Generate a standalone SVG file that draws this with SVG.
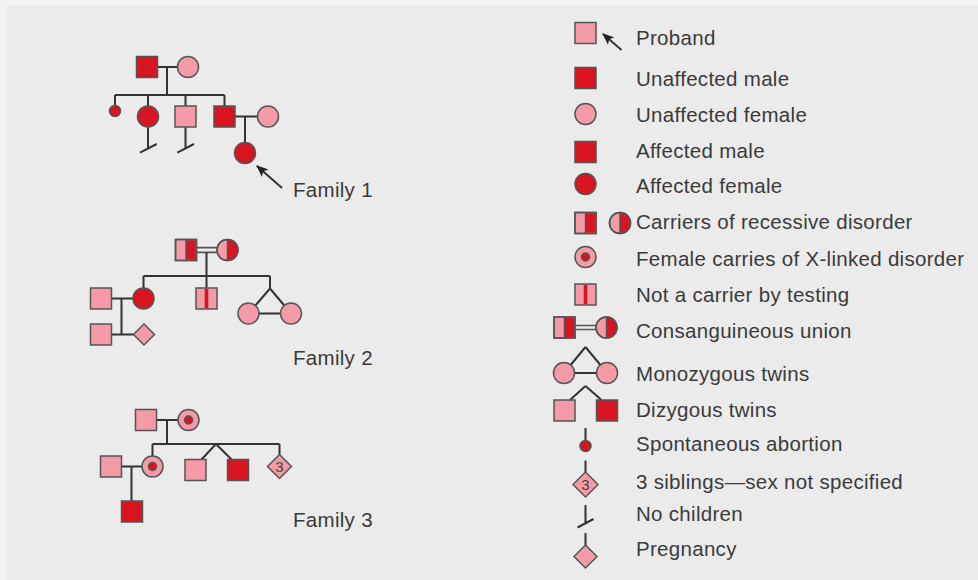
<svg xmlns="http://www.w3.org/2000/svg" width="978" height="580" viewBox="0 0 978 580">
<defs>
<style>
.pk{fill:#f49ba7;stroke:#555;stroke-width:1.5}
.rd{fill:#d7141f;stroke:#555;stroke-width:1.5}
.rdf{fill:#d7141f;stroke:none}
.ol{fill:none;stroke:#555;stroke-width:1.5}
.ln{fill:none;stroke:#333;stroke-width:2}
.dbl{fill:none;stroke:#555;stroke-width:1.6}
.tx{font-family:"Liberation Sans",Arial,Helvetica,sans-serif;font-size:20.5px;fill:#3a3a3a;letter-spacing:0.3px}
.num{font-family:"Liberation Sans",Arial,Helvetica,sans-serif;font-size:15px;fill:#444;text-anchor:middle}
</style>
<marker id="arr" viewBox="0 0 12 10" refX="11" refY="5" markerWidth="12" markerHeight="10" markerUnits="userSpaceOnUse" orient="auto">
<path d="M0,0 L12,5 L0,10 L3,5 z" fill="#222"/>
</marker>
</defs>
<rect x="0" y="0" width="978" height="580" fill="#f3f3f3"/>
<rect x="7" y="5" width="971" height="575" fill="#ebebeb"/>

<g id="connectors">
<!-- Family 1 -->
<path class="ln" d="M157.5,67 H177.5 M167,67 V95 M115,95 H224.5 M115,95 V106 M148,95 V106 M185.5,95 V106 M224.5,95 V106"/>
<path class="ln" d="M235,116.5 H257.5 M245,116.5 V142.5"/>
<path class="ln" d="M148,127 V148.5 M140,152.7 L156.7,144 M185.5,127 V148.5 M177.3,152.7 L194,144"/>
<line class="ln" x1="282" y1="188" x2="257" y2="166" marker-end="url(#arr)"/>
<!-- Family 2 -->
<path class="dbl" d="M196.5,247.6 H217 M196.5,252.4 H217"/>
<path class="ln" d="M206.5,252.4 V276 M143.5,276 H270 M143.5,276 V288 M206.5,276 V288 M270,276 V288.5"/>
<path class="ln" d="M270,288.5 L248.5,313.5 M270,288.5 L291,313.5 M248.5,313.5 H291"/>
<path class="ln" d="M111.5,298.5 H133 M121.5,298.5 V334.5 M111.5,334.5 H133.5"/>
<!-- Family 3 -->
<path class="ln" d="M156.5,420 H178 M167,420 V444 M152.5,444 H279.5 M152.5,444 V456 M279.5,444 V454.5"/>
<path class="ln" d="M216,444 L201.5,459.5 M216,444 L231.5,459.5"/>
<path class="ln" d="M121.5,466.5 H142 M131.5,466.5 V501"/>
<!-- Legend -->
<line class="ln" x1="621.5" y1="50" x2="603" y2="34" marker-end="url(#arr)"/>
<path class="dbl" d="M575,325.5 H596 M575,329.5 H596"/>
<path class="ln" d="M585.5,347 L564,373 M585.5,347 L607,373 M564,373 H607"/>
<path class="ln" d="M585.5,386 L570,400 M585.5,386 L601.5,400"/>
<path class="ln" d="M585.5,428 V441 M585.5,460.5 V472 M585.5,505 V523.3 M577.5,527.5 L593.5,519 M585.5,533 V545"/>
</g>

<!-- Family 1 nodes -->
<g id="f1-father"><rect class="rd" x="136.5" y="56.5" width="21" height="21"/></g>
<g id="f1-mother"><circle class="pk" cx="188" cy="67" r="10.5"/></g>
<g id="f1-abortion"><circle class="rd" cx="115" cy="111" r="5.5"/></g>
<g id="f1-daughter"><circle class="rd" cx="148" cy="116.5" r="10.5"/></g>
<g id="f1-son1"><rect class="pk" x="175" y="106" width="21" height="21"/></g>
<g id="f1-son2"><rect class="rd" x="214" y="106" width="21" height="21"/></g>
<g id="f1-wife"><circle class="pk" cx="268" cy="116.5" r="10.5"/></g>
<g id="f1-proband"><circle class="rd" cx="245" cy="153" r="10.5"/></g>
<g id="f1-label"><text class="tx" x="293" y="197">Family 1</text></g>

<!-- Family 2 nodes -->
<g id="f2-father">
<rect class="pk" x="175.5" y="239.5" width="21" height="21"/>
<rect class="rdf" x="186" y="240.2" width="9.8" height="19.6"/>
<rect class="ol" x="175.5" y="239.5" width="21" height="21"/>
<line class="ol" x1="186" y1="239.5" x2="186" y2="260.5"/>
</g>
<g id="f2-mother">
<circle class="pk" cx="227.5" cy="250" r="10.5"/>
<path class="rdf" d="M227.5,239.5 A10.5,10.5 0 0 1 227.5,260.5 Z"/>
<circle class="ol" cx="227.5" cy="250" r="10.5"/>
<line class="ol" x1="227.5" y1="239.5" x2="227.5" y2="260.5"/>
</g>
<g id="f2-daughter"><circle class="rd" cx="143.5" cy="298.5" r="10.5"/></g>
<g id="f2-son">
<rect class="pk" x="196" y="288" width="21" height="21"/>
<rect class="rdf" x="204.7" y="288.7" width="3.6" height="19.6"/>
</g>
<g id="f2-twin1"><circle class="pk" cx="248.5" cy="313.5" r="10.5"/></g>
<g id="f2-twin2"><circle class="pk" cx="291" cy="313.5" r="10.5"/></g>
<g id="f2-partner1"><rect class="pk" x="90.5" y="288" width="21" height="21"/></g>
<g id="f2-partner2"><rect class="pk" x="90.5" y="324" width="21" height="21"/></g>
<g id="f2-pregnancy"><polygon class="pk" points="144,324 154.5,334.5 144,345 133.5,334.5"/></g>
<g id="f2-label"><text class="tx" x="293" y="365">Family 2</text></g>

<!-- Family 3 nodes -->
<g id="f3-father"><rect class="pk" x="135.5" y="409.5" width="21" height="21"/></g>
<g id="f3-mother"><circle class="pk" cx="188.5" cy="420" r="10.5"/><circle class="rd" cx="188.5" cy="420" r="4"/></g>
<g id="f3-daughter"><circle class="pk" cx="152.5" cy="466.5" r="10.5"/><circle class="rd" cx="152.5" cy="466.5" r="4"/></g>
<g id="f3-twin1"><rect class="pk" x="185" y="459.5" width="21" height="21"/></g>
<g id="f3-twin2"><rect class="rd" x="227.5" y="459.5" width="21" height="21"/></g>
<g id="f3-siblings"><polygon class="pk" points="279.5,454.5 291.5,466.5 279.5,478.5 267.5,466.5"/><text class="num" x="279.5" y="471.8">3</text></g>
<g id="f3-partner"><rect class="pk" x="100.5" y="456" width="21" height="21"/></g>
<g id="f3-child"><rect class="rd" x="121.5" y="501" width="21" height="21"/></g>
<g id="f3-label"><text class="tx" x="293" y="527">Family 3</text></g>

<!-- Legend -->
<g id="lg-proband"><rect class="pk" x="575" y="22.5" width="21" height="21"/><text class="tx" x="636" y="45">Proband</text></g>
<g id="lg-unaff-male"><rect class="rd" x="575" y="67.5" width="21" height="21"/><text class="tx" x="636" y="86">Unaffected male</text></g>
<g id="lg-unaff-female"><circle class="pk" cx="585.5" cy="114" r="10.5"/><text class="tx" x="636" y="122">Unaffected female</text></g>
<g id="lg-aff-male"><rect class="rd" x="575" y="141.5" width="21" height="21"/><text class="tx" x="636" y="157.5">Affected male</text></g>
<g id="lg-aff-female"><circle class="rd" cx="585.5" cy="184" r="10.5"/><text class="tx" x="636" y="193">Affected female</text></g>
<g id="lg-carriers">
<rect class="pk" x="575" y="212.5" width="21" height="21"/>
<rect class="rdf" x="585.5" y="213.2" width="9.8" height="19.6"/>
<rect class="ol" x="575" y="212.5" width="21" height="21"/>
<line class="ol" x1="585.5" y1="212.5" x2="585.5" y2="233.5"/>
<circle class="pk" cx="620" cy="223" r="10.5"/>
<path class="rdf" d="M620,212.5 A10.5,10.5 0 0 1 620,233.5 Z"/>
<circle class="ol" cx="620" cy="223" r="10.5"/>
<line class="ol" x1="620" y1="212.5" x2="620" y2="233.5"/>
<text class="tx" x="636" y="229">Carriers of recessive disorder</text>
</g>
<g id="lg-xlinked"><circle class="pk" cx="585.5" cy="257" r="10.5"/><circle class="rd" cx="585.5" cy="257" r="4"/><text class="tx" x="636" y="266">Female carries of X-linked disorder</text></g>
<g id="lg-notcarrier">
<rect class="pk" x="575" y="284" width="21" height="21"/>
<rect class="rdf" x="583.7" y="284.7" width="3.6" height="19.6"/>
<text class="tx" x="636" y="302">Not a carrier by testing</text>
</g>
<g id="lg-consang">
<rect class="pk" x="554" y="317" width="21" height="21"/>
<rect class="rdf" x="564.5" y="317.7" width="9.8" height="19.6"/>
<rect class="ol" x="554" y="317" width="21" height="21"/>
<line class="ol" x1="564.5" y1="317" x2="564.5" y2="338"/>
<circle class="pk" cx="606.5" cy="327.5" r="10.5"/>
<path class="rdf" d="M606.5,317 A10.5,10.5 0 0 1 606.5,338 Z"/>
<circle class="ol" cx="606.5" cy="327.5" r="10.5"/>
<line class="ol" x1="606.5" y1="317" x2="606.5" y2="338"/>
<text class="tx" x="636" y="338">Consanguineous union</text>
</g>
<g id="lg-mono"><circle class="pk" cx="564" cy="373" r="10.5"/><circle class="pk" cx="607" cy="373" r="10.5"/><text class="tx" x="636" y="381">Monozygous twins</text></g>
<g id="lg-dizy"><rect class="pk" x="554" y="400" width="21" height="21"/><rect class="rd" x="596.5" y="400" width="21" height="21"/><text class="tx" x="636" y="417">Dizygous twins</text></g>
<g id="lg-abortion"><circle class="rd" cx="585.5" cy="446" r="5.5"/><text class="tx" x="636" y="451">Spontaneous abortion</text></g>
<g id="lg-siblings"><polygon class="pk" points="585.5,472 598,484.5 585.5,497 573,484.5"/><text class="num" x="585.5" y="489.8">3</text><text class="tx" x="636" y="489">3 siblings—sex not specified</text></g>
<g id="lg-nochildren"><text class="tx" x="636" y="521">No children</text></g>
<g id="lg-pregnancy"><polygon class="pk" points="585.5,545 597,556.5 585.5,568 574,556.5"/><text class="tx" x="636" y="556">Pregnancy</text></g>
</svg>
